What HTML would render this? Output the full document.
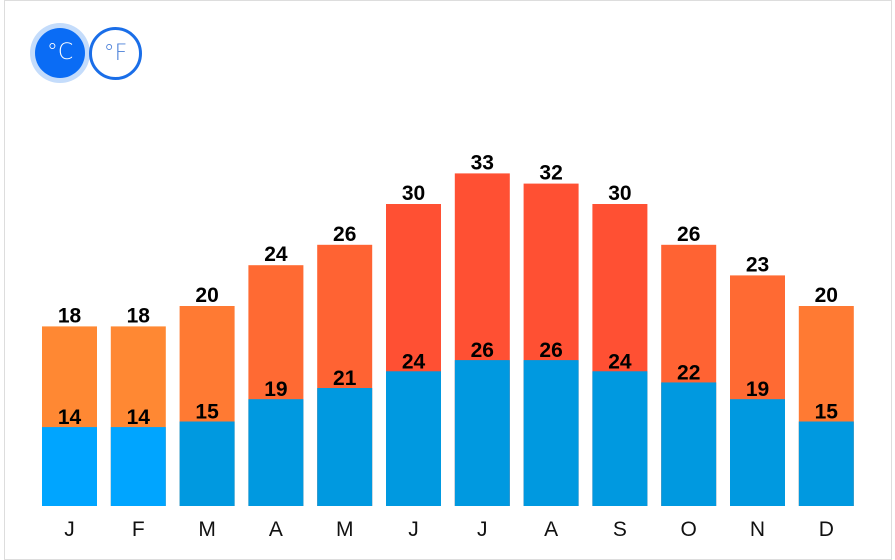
<!DOCTYPE html>
<html><head><meta charset="utf-8"><style>
body{margin:0;width:895px;height:554px;overflow:hidden;background:#fff;font-family:"Liberation Sans",sans-serif}
#card{position:absolute;left:4px;top:0;width:888px;height:560px;border:1px solid #ddd;box-sizing:border-box}
.btn{position:absolute;border-radius:50%;box-sizing:border-box;text-align:center;font-size:22px;font-family:"DejaVu Sans",sans-serif;font-weight:200}
</style></head><body>
<div id="card"></div>
<div class="btn" style="left:30px;top:23px;width:60px;height:60px;background:#c4dcfb;"></div>
<div class="btn" style="left:35px;top:28px;width:50px;height:50px;background:#0a6cf5;color:#fff;line-height:50px">°C</div>
<div class="btn" style="left:89px;top:27px;width:53px;height:53px;border:3px solid #1a6ee8;color:#4a7fd8;line-height:47px">°F</div>
<svg id="chart" width="895" height="554" style="position:absolute;left:0;top:0"></svg>
<script>
const months=["J","F","M","A","M","J","J","A","S","O","N","D"];
const highs=[18,18,20,24,26,30,33,32,30,26,23,20];
const lows=[14,14,15,19,21,24,26,26,24,22,19,15];
const svg=document.getElementById('chart');
const NS='http://www.w3.org/2000/svg';
const base=506, x0=42, step=68.8, bw=55;
const hiY=v=>base-(10.2*v-4);
const loY=v=>base-(5.58*v+0.8);
const hiCol=v=>v>=30?'#ff5033':v>=26?'#ff6333':v>=23?'#ff6a33':v>=20?'#ff7a33':'#ff8833';
const loCol=v=>v<=14?'#00a5ff':'#0099e0';
function mk(t,a){const e=document.createElementNS(NS,t);for(const k in a)e.setAttribute(k,a[k]);svg.appendChild(e);return e;}
months.forEach((m,i)=>{
  const x=x0+i*step, cx=x+bw/2;
  let r=mk('rect',{x:x,y:hiY(highs[i]),width:bw,height:base-hiY(highs[i]),fill:hiCol(highs[i])});
  
  
  r=mk('rect',{x:x,y:loY(lows[i]),width:bw,height:base-loY(lows[i]),fill:loCol(lows[i])});
  
  
  let t=mk('text',{x:cx,y:hiY(highs[i])-4,'text-anchor':'middle','font-size':21,'font-weight':'bold',fill:'#000'});
  t.textContent=highs[i];
  
  
  t=mk('text',{x:cx,y:loY(lows[i])-3,'text-anchor':'middle','font-size':21,'font-weight':'bold',fill:'#000'});
  t.textContent=lows[i];
  
  
  t=mk('text',{x:cx,y:536,'text-anchor':'middle','font-size':21,fill:'#111'});
  t.textContent=m;
  
  
});
</script>
</body></html>
